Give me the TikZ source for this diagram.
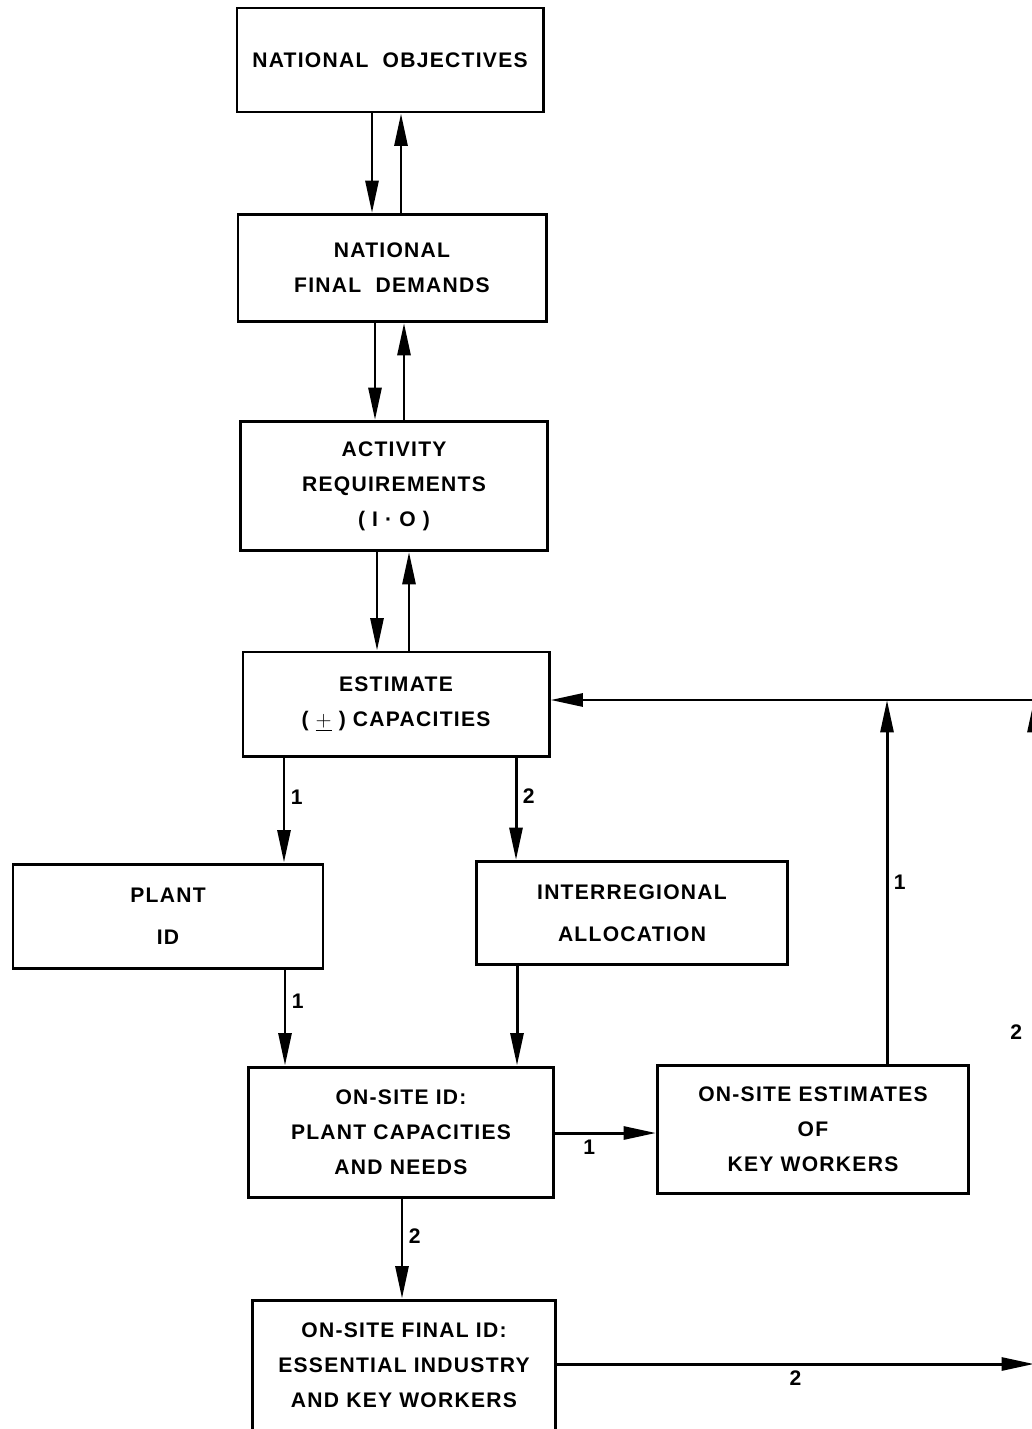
\documentclass[tikz,border=0pt]{standalone}
\usepackage{fontspec}
\setmainfont{Liberation Sans}[LetterSpace=6]
\usetikzlibrary{arrows.meta}

\begin{document}
\begin{tikzpicture}[x=0.02cm,y=-0.02cm,
    box/.style={draw,line width=1.7pt,align=center,inner sep=0pt,
        font=\bfseries\fontsize{12}{20}\selectfont},
    arr/.style={line width=1.7pt,-{Triangle[length=0.65cm,width=0.26cm]}},
    lab/.style={font=\bfseries\fontsize{12}{14}\selectfont,inner sep=3pt}]
    \newdimen\pix\pix=0.02cm
    \useasboundingbox (0,0) rectangle (1031,1429);

    \node[box,minimum width=306\pix,minimum height=104\pix] (obj) at (390,60)
        {NATIONAL\ \ OBJECTIVES};
    \node[box,minimum width=308\pix,minimum height=107\pix] (dem) at (392,268)
        {NATIONAL\\FINAL\ \ DEMANDS};
    \node[box,minimum width=307\pix,minimum height=129\pix] (act) at (394,486)
        {ACTIVITY\\REQUIREMENTS\\( I · O )};
    \node[box,minimum width=306\pix,minimum height=104\pix] (est) at (396,704)
        {ESTIMATE\\( $\underline{+}$ ) CAPACITIES};
    \node[box,minimum width=310\pix,minimum height=104\pix] (plant) at (168,916)
        {PLANT\\[4pt]ID};
    \node[box,minimum width=311\pix,minimum height=103\pix] (inter) at (632,913)
        {INTERREGIONAL\\[4pt]ALLOCATION};
    \node[box,minimum width=305\pix,minimum height=130\pix] (site) at (401,1132)
        {ON-SITE ID:\\PLANT CAPACITIES\\AND NEEDS};
    \node[box,minimum width=311\pix,minimum height=128\pix] (keyw) at (813,1129)
        {ON-SITE ESTIMATES\\OF\\KEY WORKERS};
    \node[box,minimum width=303\pix,minimum height=130\pix] (final) at (404,1365)
        {ON-SITE FINAL ID:\\ESSENTIAL INDUSTRY\\AND KEY WORKERS};

    \coordinate (j) at (887,700);
    \coordinate (ne) at (1034,700);
    \coordinate (se) at (1034,1364);

    \foreach \a/\b/\x/\y in {obj/dem/372/401,dem/act/375/404,act/est/377/409} {
        \draw[arr] (\a.south -| \x,0) -- (\b.north -| \x,0);
        \draw[arr] (\b.north -| \y,0) -- (\a.south -| \y,0);
    }

    \draw[arr] (est.south -| 284,0) -- node[lab,right,pos=0.38] {1} (plant.north -| 284,0);
    \draw[arr] (est.south -| 516,0) -- node[lab,right,pos=0.38] {2} (inter.north -| 516,0);
    \draw[arr] (plant.south -| 285,0) -- node[lab,right,pos=0.33] {1} (site.north -| 285,0);
    \draw[arr] (inter.south -| 517,0) -- (site.north -| 517,0);
    \draw[arr] (site.south -| 402,0) -- node[lab,right,pos=0.38] {2} (final.north -| 402,0);
    \draw[arr] (site.east |- 0,1133) -- node[lab,below,pos=0.34] {1} (keyw.west |- 0,1133);
    \draw[arr] (keyw.north -| j) -- node[lab,right] {1} (j);
    \draw[arr] (ne) -- (est.east |- ne);
    \draw[arr] (final.east |- se) -- node[lab,below] {2} (se);
    \draw[arr] (se) -- node[lab,left,inner sep=6pt] {2} (ne);
\end{tikzpicture}
\end{document}
